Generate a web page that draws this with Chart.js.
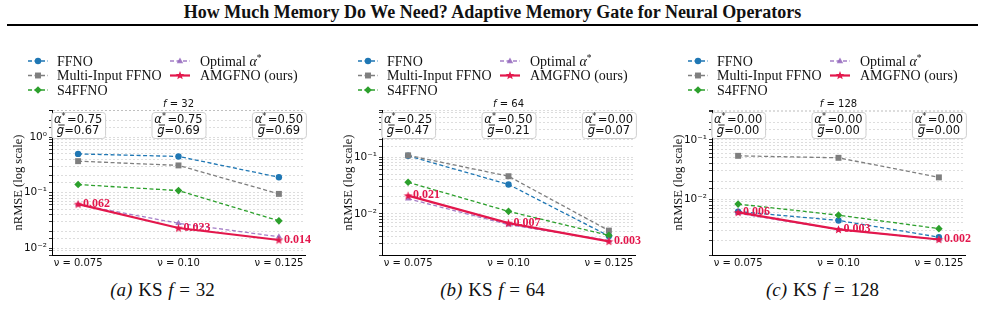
<!DOCTYPE html>
<html>
<head>
<meta charset="utf-8">
<script src="https://cdn.jsdelivr.net/npm/chart.js@4.4.1/dist/chart.umd.min.js"></script>
<style>
  html, body { margin: 0; padding: 0; background: #fff; overflow: hidden; }
  body { width: 985px; height: 320px; position: relative; font-family: "Liberation Serif", serif; color: #111; }
  #title { position: absolute; top: 2px; left: 0; width: 985px; text-align: center; font-weight: bold; font-size: 18px; }
  #rule { position: absolute; top: 24px; left: 7px; width: 971px; height: 2px; background: #000; }
  .panel { position: absolute; top: 40px; width: 325px; height: 235px; }
  .cap { position: absolute; top: 279px; width: 325px; text-align: center; font-size: 19px; word-spacing: 1px; }
</style>
</head>
<body>
<div id="title">How Much Memory Do We Need? Adaptive Memory Gate for Neural Operators</div>
<div id="rule"></div>
<div class="panel" style="left:0px"><canvas id="c32" width="325" height="235"></canvas></div>
<div class="panel" style="left:330px"><canvas id="c64" width="325" height="235"></canvas></div>
<div class="panel" style="left:660px"><canvas id="c128" width="325" height="235"></canvas></div>
<div class="cap" style="left:0px"><i>(a)</i> KS <i>f</i> = 32</div>
<div class="cap" style="left:330px"><i>(b)</i> KS <i>f</i> = 64</div>
<div class="cap" style="left:660px"><i>(c)</i> KS <i>f</i> = 128</div>
<script>
const nuLabels = ['ν = 0.075', 'ν = 0.10', 'ν = 0.125'];
const seriesNames = ['FFNO', 'Multi-Input FFNO', 'S4FFNO', 'Optimal α*', 'AMGFNO (ours)'];

// f = 32
const ffno32 = [0.50, 0.45, 0.19];
const multi32 = [0.37, 0.31, 0.095];
const s4_32 = [0.14, 0.109, 0.031];
const opt32 = [0.061, 0.028, 0.016];
const amg32 = [0.062, 0.023, 0.014];
const alpha32 = ['0.75', '0.75', '0.50'];
const gbar32 = ['0.67', '0.69', '0.69'];

// f = 64
const ffno64 = [0.105, 0.033, 0.0041];
const multi64 = [0.107, 0.046, 0.0051];
const s4_64 = [0.036, 0.0111, 0.0042];
const opt64 = [0.0185, 0.0065, 0.0034];
const amg64 = [0.021, 0.0069, 0.0033];
const alpha64 = ['0.25', '0.50', '0.00'];
const gbar64 = ['0.47', '0.21', '0.07'];

// f = 128
const ffno128 = [0.0062, 0.0044, 0.0023];
const multi128 = [0.054, 0.050, 0.0234];
const s4_128 = [0.0083, 0.0054, 0.0032];
const opt128 = [0.0058, 0.0031, 0.0021];
const amg128 = [0.0060, 0.0031, 0.0021];
const alpha128 = ['0.00', '0.00', '0.00'];
const gbar128 = ['0.00', '0.00', '0.00'];

const RED = '#e3174c';

function starPath(ctx, x, y, ro, ri) {
    ctx.beginPath();
    for (let k = 0; k < 10; k++) {
        const r = k % 2 ? ri : ro;
        const a = -Math.PI / 2 + k * Math.PI / 5;
        ctx.lineTo(x + r * Math.cos(a), y + r * Math.sin(a));
    }
    ctx.closePath();
}

// filled star used as point style
const starImg = document.createElement('canvas');
starImg.width = 11; starImg.height = 11;
(() => {
    const c = starImg.getContext('2d');
    c.fillStyle = RED;
    starPath(c, 5.5, 5.8, 4.6, 1.9);
    c.fill();
})();

const styles = [
    { color: '#1f77b4', point: 'circle', radius: 3.2, dash: [4, 2.5], width: 1.3 },
    { color: '#7f7f7f', point: 'rect', radius: 4.2, dash: [4, 2.5], width: 1.3 },
    { color: '#2ca02c', point: 'rectRot', radius: 3.8, dash: [4, 2.5], width: 1.3 },
    { color: 'rgba(148,103,189,0.85)', point: 'triangle', radius: 3.6, dash: [4, 2.5], width: 1.3 },
    { color: RED, point: starImg, radius: 5, dash: [], width: 2.2 },
];

function drawMarker(ctx, st, x, y) {
    ctx.save();
    ctx.fillStyle = st.color;
    const r = st.radius;
    if (st.point === 'circle') {
        ctx.beginPath(); ctx.arc(x, y, r, 0, Math.PI * 2); ctx.fill();
    } else if (st.point === 'rect') {
        const s = r * Math.SQRT1_2;
        ctx.fillRect(x - s, y - s, 2 * s, 2 * s);
    } else if (st.point === 'rectRot') {
        ctx.beginPath(); ctx.moveTo(x, y - r); ctx.lineTo(x + r, y); ctx.lineTo(x, y + r); ctx.lineTo(x - r, y); ctx.closePath(); ctx.fill();
    } else if (st.point === 'triangle') {
        ctx.beginPath(); ctx.moveTo(x, y - r); ctx.lineTo(x + r * 0.9, y + r * 0.6); ctx.lineTo(x - r * 0.9, y + r * 0.6); ctx.closePath(); ctx.fill();
    } else {
        ctx.fillStyle = RED;
        starPath(ctx, x, y, 4.6, 1.9); ctx.fill();
    }
    ctx.restore();
}

// draw a run of text pieces with their own fonts, returns end x
function richText(ctx, parts, x, y, measureOnly) {
    let cx = x;
    for (const p of parts) {
        ctx.font = p.font;
        if (!measureOnly) ctx.fillText(p.t, cx, y + (p.dy || 0));
        const w = ctx.measureText(p.t).width;
        if (p.bar && !measureOnly) {
            ctx.save();
            ctx.lineWidth = 0.9;
            ctx.beginPath(); ctx.moveTo(cx + 1.5, y - 8.8); ctx.lineTo(cx + w + 0.5, y - 8.8); ctx.stroke();
            ctx.restore();
        }
        cx += w + (p.gap || 0);
    }
    return cx;
}

const SANS = '"DejaVu Sans"';
const SERIF = '"Liberation Serif"';

function legendParts(name) {
    const f = '14px ' + SERIF;
    if (name.endsWith('α*')) {
        return [{ t: name.slice(0, -2), font: f }, { t: 'α', font: 'italic ' + f }, { t: '*', font: '9.5px ' + SERIF, dy: -5 }];
    }
    return [{ t: name, font: f }];
}

const decor = {
    id: 'decor',
    afterDatasetsDraw(chart) {
        const ctx = chart.ctx;
        const meta = chart.getDatasetMeta(4);
        const vals = chart.data.datasets[4].data;
        ctx.save();
        ctx.fillStyle = RED;
        ctx.font = 'bold 12px ' + SERIF;
        ctx.textBaseline = 'middle';
        ctx.textAlign = 'left';
        meta.data.forEach((pt, i) => {
            ctx.fillText(vals[i].y.toFixed(3), pt.x + 5, pt.y - 0.5);
        });
        ctx.restore();
    },
    afterDraw(chart) {
        const ctx = chart.ctx;
        const area = chart.chartArea;
        const xs = chart.scales.x;
        const info = chart.options.plugins.decor;
        ctx.save();
        ctx.textBaseline = 'alphabetic';
        ctx.textAlign = 'left';
        ctx.fillStyle = '#111';
        ctx.strokeStyle = '#111';

        // annotation boxes
        info.alphas.forEach((a, i) => {
            const cx = xs.getPixelForValue(i);
            const w = 54, h = 26, top = area.top + 2;
            ctx.save();
            ctx.fillStyle = 'rgba(255,255,255,0.9)';
            ctx.strokeStyle = '#cfcfcf';
            ctx.lineWidth = 1;
            ctx.beginPath();
            ctx.roundRect(cx - w / 2 + 0.5, top + 0.5, w, h, 3);
            ctx.fill(); ctx.stroke();
            ctx.restore();
            const l1 = [{ t: 'α', font: 'italic 11.5px ' + SANS }, { t: '*', font: '8px ' + SANS, dy: -4, gap: 1.5 }, { t: '=' + a, font: '11.5px ' + SANS }];
            const l2 = [{ t: 'g', font: 'italic 11.5px ' + SANS, bar: true }, { t: '=' + info.gbars[i], font: '11.5px ' + SANS }];
            const w1 = richText(ctx, l1, 0, 0, true);
            const w2 = richText(ctx, l2, 0, 0, true);
            richText(ctx, l1, cx - w1 / 2, top + 10.8);
            richText(ctx, l2, cx - w2 / 2, top + 21.8);
        });

        // panel title
        const tp = [{ t: 'f', font: 'italic 10px ' + SANS }, { t: ' = ' + info.f, font: '10px ' + SANS }];
        const tw = richText(ctx, tp, 0, 0, true);
        richText(ctx, tp, (area.left + area.right) / 2 - tw / 2, 66.5);

        // legend, two columns filled top to bottom
        chart.data.datasets.forEach((ds, i) => {
            const col = i < 3 ? 0 : 1;
            const row = i < 3 ? i : i - 3;
            const y = 21 + row * 14.5;
            const hx = area.left + (col ? 118 : -24);
            const st = styles[i];
            ctx.save();
            ctx.strokeStyle = st.color;
            ctx.lineWidth = st.width;
            ctx.setLineDash(st.dash);
            ctx.beginPath(); ctx.moveTo(hx, y); ctx.lineTo(hx + 20, y); ctx.stroke();
            ctx.restore();
            drawMarker(ctx, st, hx + 10, y);
            ctx.fillStyle = '#111';
            richText(ctx, legendParts(ds.label), area.left + (col ? 148 : 5), y + 4.5);
        });
        ctx.restore();
    }
};

function sup(n) {
    const m = { '-': '⁻', '0': '⁰', '1': '¹', '2': '²', '3': '³', '4': '⁴', '5': '⁵', '6': '⁶', '7': '⁷', '8': '⁸', '9': '⁹' };
    return String(n).split('').map(c => m[c]).join('');
}

function makeChart(id, f, series, yMin, yMax, alphas, gbars) {
    const datasets = series.map((vals, i) => ({
        label: seriesNames[i],
        data: vals.map((y, k) => ({ x: k, y })),
        borderColor: styles[i].color,
        backgroundColor: styles[i].color,
        borderWidth: styles[i].width,
        borderDash: styles[i].dash,
        pointStyle: styles[i].point,
        pointRadius: styles[i].radius,
        pointBorderWidth: 0,
        order: 5 - i,
        tension: 0,
    }));
    return new Chart(document.getElementById(id), {
        type: 'line',
        data: { datasets },
        options: {
            responsive: false,
            animation: false,
            layout: { padding: { top: 70, right: 20, left: 0, bottom: 0 } },
            plugins: {
                legend: { display: false },
                tooltip: { enabled: false },
                decor: { f, alphas, gbars },
            },
            scales: {
                x: {
                    type: 'linear', min: -0.26, max: 2.26,
                    afterBuildTicks: s => { s.ticks = [0, 1, 2].map(v => ({ value: v })); },
                    afterFit: s => { s.height = 20; },
                    grid: { display: true, drawOnChartArea: false, drawTicks: false },
                    border: { color: '#000', width: 1 },
                    ticks: {
                        padding: 2, color: '#111', maxRotation: 0, autoSkip: false,
                        font: { family: 'DejaVu Sans', size: 10 },
                        callback: v => nuLabels[v] ?? '',
                    },
                },
                y: {
                    type: 'logarithmic', min: yMin, max: yMax,
                    afterFit: s => { s.width = 52; },
                    grid: { color: 'rgba(0,0,0,0.17)', lineWidth: 0.8, tickLength: 3, tickColor: '#000', tickWidth: 0.8 },
                    border: { display: true, color: '#000', width: 1, dash: [2, 2] },
                    ticks: {
                        autoSkip: false, padding: 2, color: '#111',
                        font: { family: 'DejaVu Sans', size: 10.5 },
                        callback: v => {
                            const e = Math.round(Math.log10(v));
                            return Math.abs(v / Math.pow(10, e) - 1) < 1e-6 ? '10' + sup(e) : '';
                        },
                    },
                    title: {
                        display: true, text: 'nRMSE (log scale)', color: '#111',
                        font: { family: 'Liberation Serif', size: 12.5 },
                        padding: { top: 11, bottom: 0 },
                    },
                },
            },
        },
        plugins: [decor],
    });
}

makeChart('c32', 32, [ffno32, multi32, s4_32, opt32, amg32], 0.0075, 3.1, alpha32, gbar32);
makeChart('c64', 64, [ffno64, multi64, s4_64, opt64, amg64], 0.0019, 0.67, alpha64, gbar64);
makeChart('c128', 128, [ffno128, multi128, s4_128, opt128, amg128], 0.00115, 0.32, alpha128, gbar128);
</script>
</body>
</html>
